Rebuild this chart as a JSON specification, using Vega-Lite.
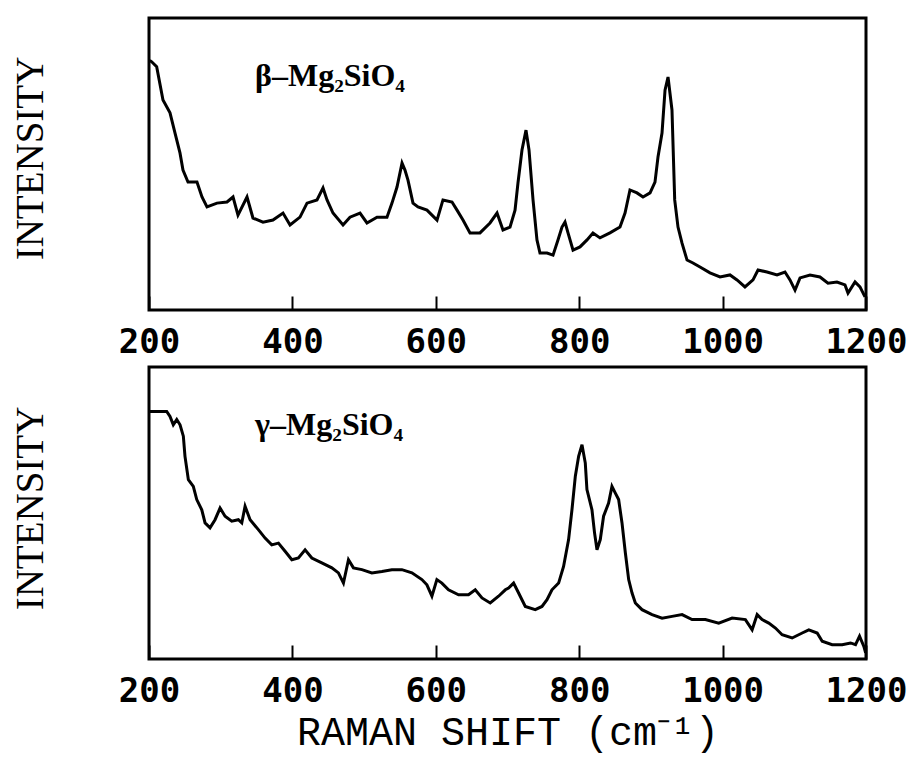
{
"$schema": "https://vega.github.io/schema/vega-lite/v6.json",
"background": "white",
"padding": {"left": 9, "top": 16, "right": 0, "bottom": 12},
"spacing": 4,
"config": {"view": {"stroke": "black", "strokeWidth": 3}, "axis": {"grid": false}},
"datasets": {
"beta": [{"x":201,"y":85.5},{"x":203.8,"y":85.0},{"x":210.7,"y":83.3},{"x":219.5,"y":71.9},{"x":229.3,"y":67.5},{"x":236.3,"y":60.6},{"x":243.2,"y":53.8},{"x":247.4,"y":47.9},{"x":254.4,"y":43.8},{"x":266.9,"y":43.8},{"x":273.9,"y":38.7},{"x":280.9,"y":35.3},{"x":294.8,"y":36.6},{"x":308.8,"y":37.0},{"x":317.2,"y":38.7},{"x":324.1,"y":32.5},{"x":336.7,"y":38.7},{"x":345.0,"y":31.5},{"x":359.0,"y":30.1},{"x":372.9,"y":30.8},{"x":386.9,"y":33.2},{"x":396.7,"y":29.1},{"x":410.6,"y":31.8},{"x":420.4,"y":36.6},{"x":434.3,"y":37.7},{"x":442.7,"y":41.8},{"x":448.3,"y":37.7},{"x":456.6,"y":33.2},{"x":470.6,"y":29.1},{"x":480.3,"y":31.8},{"x":494.3,"y":33.2},{"x":504.0,"y":29.8},{"x":518.0,"y":31.8},{"x":531.9,"y":31.8},{"x":538.9,"y":36.6},{"x":545.9,"y":42.1},{"x":552.9,"y":50.3},{"x":557.0,"y":47.9},{"x":561.2,"y":44.5},{"x":568.2,"y":36.6},{"x":575.2,"y":35.3},{"x":587.7,"y":34.2},{"x":601.7,"y":30.8},{"x":610.0,"y":37.7},{"x":622.6,"y":37.0},{"x":629.6,"y":34.2},{"x":637.9,"y":30.8},{"x":647.7,"y":26.4},{"x":661.6,"y":26.4},{"x":675.6,"y":29.8},{"x":685.4,"y":33.2},{"x":693.7,"y":27.4},{"x":703.5,"y":28.4},{"x":710.5,"y":34.2},{"x":714.6,"y":43.5},{"x":720.2,"y":54.8},{"x":725.8,"y":61.6},{"x":730.0,"y":54.8},{"x":735.6,"y":37.7},{"x":741.1,"y":24.0},{"x":745.3,"y":19.5},{"x":755.1,"y":19.5},{"x":763.5,"y":18.8},{"x":770.4,"y":24.0},{"x":776.0,"y":28.4},{"x":780.2,"y":30.1},{"x":784.4,"y":26.4},{"x":791.4,"y":20.5},{"x":801.1,"y":21.6},{"x":810.9,"y":24.0},{"x":819.2,"y":26.4},{"x":829.0,"y":24.7},{"x":842.9,"y":26.4},{"x":856.9,"y":28.4},{"x":863.9,"y":33.2},{"x":870.8,"y":41.1},{"x":880.6,"y":40.1},{"x":889.0,"y":38.7},{"x":898.8,"y":40.1},{"x":905.7,"y":43.8},{"x":909.9,"y":52.4},{"x":915.5,"y":60.6},{"x":919.7,"y":75.3},{"x":923.9,"y":79.8},{"x":929.4,"y":68.5},{"x":933.2,"y":37.7},{"x":937.8,"y":28.4},{"x":943.4,"y":22.9},{"x":950.4,"y":17.1},{"x":958.7,"y":16.1},{"x":968.5,"y":14.7},{"x":982.4,"y":12.7},{"x":996.4,"y":11.3},{"x":1010.3,"y":12.0},{"x":1020.1,"y":10.3},{"x":1031.2,"y":7.9},{"x":1042.4,"y":10.3},{"x":1049.4,"y":13.7},{"x":1061.9,"y":13.0},{"x":1075.9,"y":12.0},{"x":1087.0,"y":13.0},{"x":1094.0,"y":10.3},{"x":1101.0,"y":6.8},{"x":1108.0,"y":11.0},{"x":1121.9,"y":12.0},{"x":1135.8,"y":11.3},{"x":1147.0,"y":9.2},{"x":1159.5,"y":9.6},{"x":1170.7,"y":8.6},{"x":1174.9,"y":5.8},{"x":1184.7,"y":9.6},{"x":1191.6,"y":7.9},{"x":1198.6,"y":4.5}],
"gamma": [{"x":201,"y":84.8},{"x":224.7,"y":84.8},{"x":229.3,"y":83.1},{"x":233.9,"y":80.2},{"x":238.7,"y":82.0},{"x":243.3,"y":80.2},{"x":247.9,"y":76.3},{"x":250.2,"y":69.4},{"x":254.9,"y":61.4},{"x":261.8,"y":59.1},{"x":266.6,"y":54.6},{"x":273.6,"y":51.1},{"x":278.2,"y":46.6},{"x":285.1,"y":44.9},{"x":292.1,"y":47.7},{"x":299.1,"y":51.7},{"x":306.1,"y":48.9},{"x":315.4,"y":47.2},{"x":324.6,"y":47.7},{"x":329.4,"y":46.6},{"x":334.0,"y":52.3},{"x":341.0,"y":47.7},{"x":352.5,"y":44.3},{"x":361.9,"y":41.4},{"x":371.2,"y":39.1},{"x":380.5,"y":39.7},{"x":389.8,"y":36.9},{"x":399.2,"y":34.0},{"x":408.4,"y":34.6},{"x":417.7,"y":37.4},{"x":427.1,"y":34.6},{"x":441.0,"y":32.9},{"x":455.0,"y":31.2},{"x":464.2,"y":29.5},{"x":471.2,"y":26.0},{"x":478.2,"y":34.0},{"x":485.1,"y":31.2},{"x":496.9,"y":30.6},{"x":510.8,"y":29.5},{"x":524.8,"y":30.0},{"x":538.7,"y":30.6},{"x":552.7,"y":30.6},{"x":566.7,"y":29.5},{"x":580.6,"y":27.2},{"x":587.6,"y":25.4},{"x":594.6,"y":21.5},{"x":601.5,"y":27.2},{"x":608.5,"y":26.0},{"x":617.7,"y":23.7},{"x":631.7,"y":22.0},{"x":645.6,"y":22.0},{"x":655.0,"y":23.7},{"x":664.4,"y":20.9},{"x":675.9,"y":19.2},{"x":687.5,"y":21.5},{"x":697.0,"y":23.7},{"x":701.5,"y":24.3},{"x":708.5,"y":26.0},{"x":715.5,"y":22.6},{"x":724.8,"y":18.0},{"x":738.7,"y":16.9},{"x":748.1,"y":18.0},{"x":755.1,"y":20.3},{"x":762.0,"y":23.7},{"x":771.3,"y":26.0},{"x":778.2,"y":31.7},{"x":785.2,"y":40.9},{"x":789.9,"y":51.1},{"x":794.6,"y":62.6},{"x":799.2,"y":69.4},{"x":803.9,"y":73.4},{"x":808.5,"y":67.1},{"x":810.8,"y":58.0},{"x":817.8,"y":51.1},{"x":821.4,"y":43.2},{"x":824.8,"y":37.4},{"x":829.4,"y":40.9},{"x":834.0,"y":48.9},{"x":841.0,"y":53.4},{"x":845.7,"y":59.1},{"x":850.4,"y":56.8},{"x":855.0,"y":54.6},{"x":859.7,"y":46.6},{"x":864.4,"y":36.3},{"x":869.0,"y":27.2},{"x":873.7,"y":22.6},{"x":878.3,"y":19.2},{"x":887.6,"y":16.9},{"x":901.6,"y":15.2},{"x":915.6,"y":14.0},{"x":929.5,"y":14.6},{"x":943.5,"y":15.2},{"x":957.4,"y":13.5},{"x":976.0,"y":13.5},{"x":994.6,"y":12.3},{"x":1013.3,"y":14.0},{"x":1031.8,"y":13.5},{"x":1041.2,"y":10.0},{"x":1048.2,"y":15.2},{"x":1055.1,"y":13.5},{"x":1064.4,"y":12.3},{"x":1073.7,"y":10.6},{"x":1083.0,"y":8.3},{"x":1097.0,"y":7.2},{"x":1111.0,"y":8.9},{"x":1120.2,"y":10.0},{"x":1131.9,"y":8.9},{"x":1138.9,"y":6.1},{"x":1152.8,"y":4.9},{"x":1166.8,"y":4.9},{"x":1178.4,"y":5.5},{"x":1185.4,"y":4.9},{"x":1191.0,"y":7.8},{"x":1197.0,"y":4.3},{"x":1199.5,"y":2.1}]
},
"vconcat": [
{
"width": 717, "height": 292,
"layer": [
{"data": {"name": "beta"}, "mark": {"type": "line", "color": "black", "strokeWidth": 3},
 "encoding": {
  "x": {"field": "x", "type": "quantitative", "scale": {"domain": [200, 1200], "nice": false},
        "axis": {"title": null, "values": [200, 400, 600, 800, 1000, 1200], "format": "d", "domain": false, "tickSize": -14, "tickWidth": 2, "tickColor": "black",
                 "labelFont": "DejaVu Sans Mono", "labelFontWeight": "bold", "labelFontSize": 34, "labelColor": "black", "labelPadding": 29, "labelFlush": false}},
  "y": {"field": "y", "type": "quantitative", "scale": {"domain": [0, 100], "nice": false},
        "axis": {"title": "INTENSITY", "labels": false, "ticks": false, "domain": false, "titleFont": "Liberation Serif", "titleFontSize": 39, "titleFontWeight": "normal", "titleColor": "black", "titlePadding": 99, "titleY": 140}}
 }},
{"data": {"values": [{"x": 348, "y": 76.7, "label": "β–Mg₂SiO₄"}]},
 "mark": {"type": "text", "align": "left", "baseline": "alphabetic", "font": "Liberation Serif", "fontWeight": "bold", "fontSize": 32, "color": "black"},
 "encoding": {"x": {"field": "x", "type": "quantitative"}, "y": {"field": "y", "type": "quantitative"}, "text": {"field": "label"}}}
]
},
{
"width": 717, "height": 292,
"layer": [
{"data": {"name": "gamma"}, "mark": {"type": "line", "color": "black", "strokeWidth": 3},
 "encoding": {
  "x": {"field": "x", "type": "quantitative", "scale": {"domain": [200, 1200], "nice": false},
        "axis": {"title": "RAMAN SHIFT (cm⁻¹)", "titleFont": "Liberation Mono", "titleFontSize": 40, "titleFontWeight": "normal", "titleColor": "black", "titlePadding": 4,
                 "values": [200, 400, 600, 800, 1000, 1200], "format": "d", "domain": false, "tickSize": -14, "tickWidth": 2, "tickColor": "black",
                 "labelFont": "DejaVu Sans Mono", "labelFontWeight": "bold", "labelFontSize": 34, "labelColor": "black", "labelPadding": 29, "labelFlush": false}},
  "y": {"field": "y", "type": "quantitative", "scale": {"domain": [0, 100], "nice": false},
        "axis": {"title": "INTENSITY", "labels": false, "ticks": false, "domain": false, "titleFont": "Liberation Serif", "titleFontSize": 39, "titleFontWeight": "normal", "titleColor": "black", "titlePadding": 99, "titleY": 141}}
 }},
{"data": {"values": [{"x": 348, "y": 76.7, "label": "γ–Mg₂SiO₄"}]},
 "mark": {"type": "text", "align": "left", "baseline": "alphabetic", "font": "Liberation Serif", "fontWeight": "bold", "fontSize": 32, "color": "black"},
 "encoding": {"x": {"field": "x", "type": "quantitative"}, "y": {"field": "y", "type": "quantitative"}, "text": {"field": "label"}}}
]
}
]
}
